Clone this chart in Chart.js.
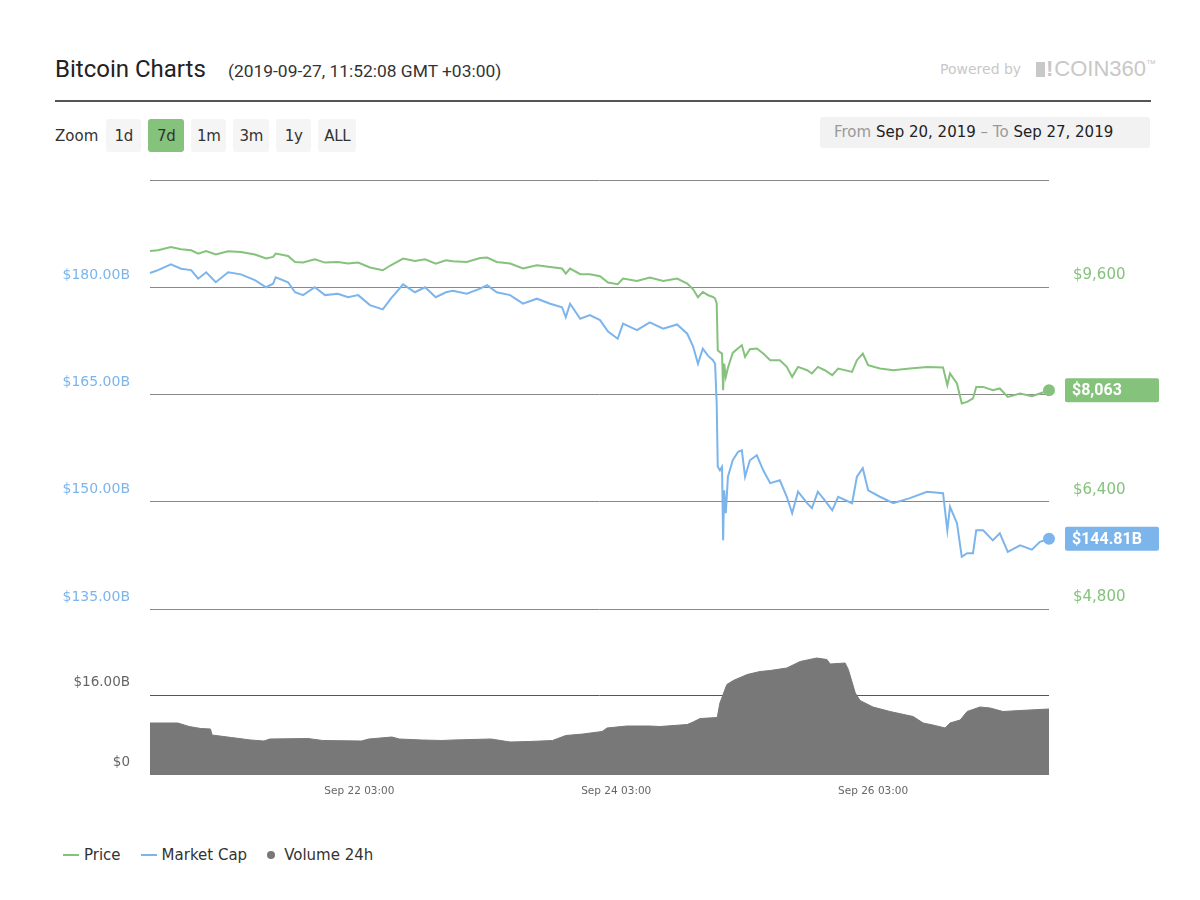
<!DOCTYPE html>
<html>
<head>
<meta charset="utf-8">
<title>Bitcoin Charts</title>
<script src="https://cdn.jsdelivr.net/npm/chart.js@4.4.1/dist/chart.umd.min.js"></script>
<style>
  html, body { margin: 0; padding: 0; background: #fff; }
  body { width: 1200px; height: 900px; position: relative; overflow: hidden; font-family: "DejaVu Sans", sans-serif; color: #333; }
  .abs { position: absolute; white-space: nowrap; }
  .title { left: 55px; top: 57px; font: 24px/24px Roboto, sans-serif; color: #222; }
  .stamp { left: 228px; top: 63px; font: 17.4px/17px Roboto, sans-serif; color: #333; }
  .powered { left: 940px; top: 62px; font-size: 14px; line-height: 14px; color: #c8c8c8; }
  .logo { left: 1036px; top: 58px; height: 22px; display: flex; align-items: center; color: #c8c8c8; font: 22px/22px "Liberation Sans", sans-serif; }
  .logo .block { width: 9px; height: 15px; background: #c8c8c8; margin-right: 1px; }
  .logo .bang { font-weight: bold; margin-right: 1px; }
  .logo sup { font-size: 10px; line-height: 10px; align-self: flex-start; margin-top: 1px; }
  .rule { left: 55px; top: 100px; width: 1096px; height: 2px; background: #555; }
  .zoom { left: 55px; top: 119px; height: 33px; display: flex; align-items: center; font-size: 15px; }
  .zoom span { margin-right: 8px; }
  .zoom button { font: 15px "DejaVu Sans", sans-serif; color: #333; background: #f5f5f5; border: 0; border-radius: 3px; height: 33px; padding: 0; margin-right: 7px; text-align: center; letter-spacing: -0.3px; }
  .zoom button.on { background: #85c27c; }
  .range { left: 820px; top: 117px; width: 316px; height: 31px; padding-left: 14px; background: #f2f2f2; border-radius: 3px; font-size: 15px; line-height: 31px; color: #222; }
  .range .dim { color: #9a9a9a; }
  .chart { position: absolute; left: 0; width: 1200px; }
  .legend { left: 63px; top: 845px; height: 20px; display: flex; align-items: center; font-size: 15px; color: #333; }
  .legend .line { width: 16px; height: 2px; margin-right: 5px; }
  .legend .dot { width: 8px; height: 8px; border-radius: 50%; background: #787878; margin-right: 9px; }
  .legend .item { margin-right: 20px; }
</style>
</head>
<body>
<div class="abs title">Bitcoin Charts</div>
<div class="abs stamp">(2019-09-27, 11:52:08 GMT +03:00)</div>
<div class="abs powered">Powered by</div>
<div class="abs logo"><div class="block"></div><span class="bang">!</span>COIN360<sup>™</sup></div>
<div class="abs rule"></div>
<div class="abs zoom">
  <span>Zoom</span>
  <button style="width:35px">1d</button><button class="on" style="width:36px">7d</button><button style="width:35px">1m</button><button style="width:36px">3m</button><button style="width:35px">1y</button><button style="width:38px">ALL</button>
</div>
<div class="abs range"><span class="dim">From</span> Sep 20, 2019 <span class="dim">–</span> <span class="dim">To</span> Sep 27, 2019</div>

<div class="chart" style="top:170px;height:446px"><canvas id="main"></canvas></div>
<div class="chart" style="top:600px;height:210px"><canvas id="volume"></canvas></div>

<div class="abs legend">
  <div class="line" style="background:#85c27c"></div><span class="item">Price</span>
  <div class="line" style="background:#7cb5ec"></div><span class="item">Market Cap</span>
  <div class="dot"></div><span>Volume 24h</span>
</div>

<script>
// hours since Sep 20, 11:52 (GMT +03:00)
const hours = [0, 1.5, 3.9, 5.8, 7.7, 9.0, 10.5, 12.3, 14.6, 17.0,
  19.6, 21.7, 23.0, 23.5, 25.8, 27.1, 28.6, 30.8, 32.7, 35.1,
  37.0, 38.9, 41.1, 43.5, 45.0, 47.3, 49.5, 51.4, 53.4, 55.3,
  56.6, 59.2, 61.7, 63.0, 64.8, 67.3, 69.7, 72.3, 74.8, 77.0,
  77.7, 78.5, 80.4, 82.2, 84.1, 85.6, 87.4, 88.4, 91.0, 93.4,
  95.9, 98.5, 100.4, 101.5, 102.4, 103.3, 104.3, 105.2, 105.6, 105.9,
  106.1, 106.5, 106.9, 107.1, 107.3, 107.6, 108.0, 108.9, 109.9, 110.6,
  111.2, 112.1, 113.4, 114.6, 115.9, 117.7, 119.0, 120.0, 121.1, 122.8,
  123.7, 124.8, 126.1, 127.5, 128.6, 131.2, 132.1, 133.2, 134.2, 136.4,
  138.9, 142.0, 145.2, 148.2, 149.0, 149.5, 150.8, 151.7, 152.7, 153.8,
  154.4, 155.7, 157.5, 158.8, 160.3, 162.6, 164.8, 166.3, 168.0]

const price = [10141, 10152, 10201, 10167, 10152, 10102, 10141, 10088, 10137, 10126,
  10088, 10028, 10052, 10102, 10067, 9977, 9968, 10017, 9968, 9977,
  9953, 9968, 9894, 9853, 9928, 10028, 9992, 10017, 9953, 10003,
  9988, 9977, 10037, 10043, 9977, 9953, 9879, 9928, 9903, 9879,
  9804, 9879, 9794, 9794, 9764, 9670, 9645, 9730, 9694, 9745,
  9694, 9730, 9655, 9570, 9451, 9530, 9481, 9455, 9432, 9357,
  8661, 8631, 8611, 8064, 8462, 8263, 8400, 8620, 8690, 8735,
  8561, 8676, 8686, 8611, 8512, 8512, 8412, 8263, 8412, 8362,
  8313, 8412, 8362, 8288, 8388, 8337, 8512, 8611, 8437, 8388,
  8362, 8388, 8412, 8403, 8139, 8313, 8164, 7866, 7890, 7941,
  8113, 8113, 8064, 8090, 7964, 8015, 7975, 8015, 8063]

// billions USD
const marketCap = [182.0, 182.4, 183.2, 182.6, 182.4, 181.2, 182.1, 180.7, 182.1, 181.8,
  181.0, 180.0, 180.5, 181.4, 180.7, 179.3, 178.9, 180.0, 178.9, 179.1,
  178.6, 178.9, 177.5, 176.9, 178.4, 180.4, 179.3, 180.0, 178.6, 179.3,
  179.5, 179.1, 179.8, 180.3, 179.3, 178.9, 177.7, 178.4, 177.7, 177.2,
  175.8, 177.7, 175.6, 176.1, 175.4, 173.8, 172.8, 174.9, 174.0, 175.1,
  174.2, 174.8, 173.5, 171.7, 169.3, 171.4, 170.4, 169.8, 169.3, 163.7,
  154.9, 154.4, 154.9, 144.6, 151.6, 148.4, 153.5, 155.8, 157.0, 157.2,
  153.5, 155.8, 156.5, 154.4, 152.6, 153.0, 150.7, 148.4, 151.4, 149.8,
  149.1, 151.4, 150.2, 148.8, 150.7, 149.8, 153.5, 154.7, 151.6, 150.7,
  149.8, 150.5, 151.4, 151.2, 146.0, 149.3, 147.0, 142.3, 142.8, 142.8,
  146.0, 146.0, 144.6, 145.6, 143.0, 143.9, 143.3, 144.4, 144.81]

const volHours = [0, 5.2, 7.3, 9.5, 11.3, 11.6, 15.2, 18.8, 21.3, 22.4,
  29.5, 32.3, 39.5, 40.9, 45.2, 46.6, 50.9, 54.5, 56.6, 63.7,
  67.3, 70.9, 75.2, 77.7, 80.9, 84.5, 85.4, 89.1, 93.4, 95.3,
  100.4, 101.5, 102.8, 106.0, 106.5, 107.8, 109.0, 111.6, 114.0, 115.9,
  119.0, 121.5, 124.6, 126.5, 127.1, 129.9, 130.5, 131.8, 132.7, 135.1,
  138.3, 142.6, 144.5, 146.3, 148.6, 149.5, 151.4, 152.7, 155.1, 157.0,
  159.4, 162.6, 168.0]

const volume = [10.4, 10.4, 9.7, 9.3, 9.2, 8.0, 7.5, 7.0, 6.8, 7.2,
  7.3, 6.9, 6.8, 7.2, 7.6, 7.2, 7.0, 6.9, 7.0, 7.2,
  6.6, 6.7, 6.9, 7.9, 8.2, 8.7, 9.4, 9.8, 9.8, 9.7,
  10.1, 10.6, 11.3, 11.5, 14.4, 18.1, 18.9, 20.1, 20.7, 20.9,
  21.4, 22.7, 23.4, 23.1, 22.2, 22.4, 21.1, 16.4, 14.9, 13.6,
  12.7, 11.7, 10.4, 10.0, 9.4, 10.4, 11.0, 12.7, 13.6, 13.4,
  12.7, 12.9, 13.2]

const tickHours = [39.13, 87.13, 135.13]
const tickLabels = ['Sep 22 03:00', 'Sep 24 03:00', 'Sep 26 03:00']

const capTicks = [135, 150, 165, 180, 195]
const priceTicks = [4800, 6400, 8000, 9600, 11200]
const volTicks = [0, 16, 32]

const GREEN = '#85c27c'
const BLUE = '#7cb5ec'
const GREY = '#787878'

const toPoints = (xs, ys) => xs.map((x, i) => ({ x, y: ys[i] }))
const fmtB = v => `$${v.toFixed(2)}B`
const fmtUsd = v => `$${Math.round(v).toLocaleString('en-US')}`
const lastDot = n => ctx => ctx.dataIndex === n - 1 ? 5 : 0
const lastPrice = price[price.length - 1]

// keep the plot edges where they are, tick padding would otherwise shrink it
const fixWidth = w => axis => {
  axis.width = w
  axis.paddingTop = 0
  axis.paddingBottom = 0
}

/** Coloured box with the latest value, at the right of the plot */
const lastBadge = {
  id: 'lastBadge',
  afterDraw(chart) {
    const ctx = chart.ctx
    chart.data.datasets.forEach((ds, i) => {
      const meta = chart.getDatasetMeta(i)
      const pt = meta.data[meta.data.length - 1]
      const left = chart.chartArea.right + 16
      ctx.save()
      ctx.fillStyle = ds.borderColor
      ctx.beginPath()
      ctx.roundRect(left, pt.y - 12, 94, 24, 2)
      ctx.fill()
      ctx.fillStyle = '#fff'
      ctx.font = 'bold 16px Roboto'
      ctx.textBaseline = 'middle'
      ctx.fillText(ds.badge, left + 7, pt.y + 1)
      ctx.restore()
    })
  }
}

new Chart('main', {
  type: 'line',
  data: {
    datasets: [{
      label: 'Price',
      data: toPoints(hours, price),
      yAxisID: 'yPrice',
      borderColor: GREEN,
      backgroundColor: GREEN,
      borderWidth: 2,
      pointRadius: lastDot(hours.length),
      pointHoverRadius: 0,
      badge: fmtUsd(lastPrice),
      clip: false
    }, {
      label: 'Market Cap',
      data: toPoints(hours, marketCap),
      yAxisID: 'yCap',
      borderColor: BLUE,
      backgroundColor: BLUE,
      borderWidth: 2,
      pointRadius: lastDot(hours.length),
      pointHoverRadius: 0,
      badge: fmtB(marketCap[marketCap.length - 1]),
      clip: false
    }]
  },
  options: {
    responsive: true,
    maintainAspectRatio: false,
    animation: false,
    layout: { padding: { top: 10, bottom: 1, left: 0, right: 0 } },
    plugins: { legend: { display: false }, tooltip: { enabled: false } },
    scales: {
      x: { type: 'linear', min: 0, max: 168, display: false },
      yCap: {
        position: 'left',
        min: capTicks[0],
        max: capTicks[capTicks.length - 1],
        afterBuildTicks: axis => { axis.ticks = capTicks.map(value => ({ value })) },
        afterFit: fixWidth(150),
        border: { display: false },
        grid: { color: '#888', drawTicks: false },
        ticks: {
          color: BLUE,
          font: { family: 'DejaVu Sans', size: 14 },
          padding: 20,
          labelOffset: -12,
          callback: v => v === capTicks[capTicks.length - 1] ? '' : fmtB(v)
        }
      },
      yPrice: {
        position: 'right',
        min: priceTicks[0],
        max: priceTicks[priceTicks.length - 1],
        afterBuildTicks: axis => { axis.ticks = priceTicks.map(value => ({ value })) },
        afterFit: fixWidth(151),
        border: { display: false },
        grid: { drawOnChartArea: false, drawTicks: false },
        ticks: {
          color: GREEN,
          font: { family: 'DejaVu Sans', size: 15 },
          padding: 24,
          labelOffset: -12,
          // the top label and the one hidden by the price badge are left out
          callback: v => {
            if (v === priceTicks[priceTicks.length - 1]) return ''
            if (Math.abs(v - lastPrice) < 300) return ''
            return fmtUsd(v)
          }
        }
      }
    }
  },
  plugins: [lastBadge]
})

new Chart('volume', {
  type: 'line',
  data: {
    datasets: [{
      label: 'Volume 24h',
      data: toPoints(volHours, volume),
      borderColor: GREY,
      backgroundColor: GREY,
      borderWidth: 1,
      fill: 'origin',
      pointRadius: 0
    }]
  },
  options: {
    responsive: true,
    maintainAspectRatio: false,
    animation: false,
    layout: { padding: { top: 15, bottom: 0, left: 0, right: 151 } },
    plugins: { legend: { display: false }, tooltip: { enabled: false } },
    scales: {
      x: {
        type: 'linear',
        min: 0,
        max: 168,
        afterBuildTicks: axis => { axis.ticks = tickHours.map(value => ({ value })) },
        afterFit: axis => {
          axis.height = 35
          axis.paddingLeft = 0
          axis.paddingRight = 0
        },
        border: { display: false },
        grid: { display: false, drawTicks: false },
        ticks: {
          color: '#666',
          font: { family: 'DejaVu Sans', size: 10.5 },
          padding: 10,
          maxRotation: 0,
          autoSkip: false,
          callback: v => tickLabels[tickHours.indexOf(v)]
        }
      },
      y: {
        min: volTicks[0],
        max: volTicks[volTicks.length - 1],
        afterBuildTicks: axis => { axis.ticks = volTicks.map(value => ({ value })) },
        afterFit: fixWidth(150),
        border: { display: false },
        grid: {
          drawTicks: false,
          color: ctx => ctx.tick && ctx.tick.value === volTicks[1] ? '#555' : 'rgba(0,0,0,0)'
        },
        ticks: {
          color: '#666',
          font: { family: 'DejaVu Sans', size: 13.5 },
          padding: 20,
          labelOffset: -13,
          callback: v => v === volTicks[volTicks.length - 1] ? '' : (v === 0 ? '$0' : fmtB(v))
        }
      }
    }
  }
})
</script>
</body>
</html>
